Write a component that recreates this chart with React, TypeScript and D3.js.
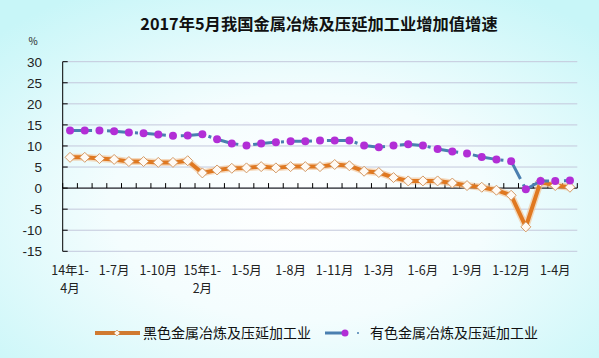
import React from "react";
import * as d3 from "d3";

const title = "2017年5月我国金属冶炼及压延加工业增加值增速";
const seriesNames = ["黑色金属冶炼及压延加工业", "有色金属冶炼及压延加工业"];
// 35 monthly cumulative periods: 2014 1-4 .. 2017 1-5
const ferrous = [7.3, 7.3, 7.0, 6.8, 6.3, 6.3, 6.1, 6.1, 6.5, 3.6, 4.3, 4.7, 4.8, 5.1, 4.8, 5.1, 5.1, 5.1, 5.6, 5.3, 4.0, 3.7, 2.5, 1.7, 1.7, 1.7, 1.2, 0.6, 0.2, -0.5, -1.7, -9.2, 1.5, 0.6, 0.2];
const nonferrous = [13.7, 13.7, 13.7, 13.5, 13.2, 13.0, 12.7, 12.4, 12.5, 12.8, 11.6, 10.6, 10.1, 10.6, 10.9, 11.1, 11.1, 11.3, 11.3, 11.3, 10.1, 9.7, 10.1, 10.4, 10.1, 9.3, 8.7, 8.2, 7.4, 6.8, 6.4, -0.3, 1.7, 1.7, 1.8];
const xLabels = [["14年1-", "4月"], ["1-7月"], ["1-10月"], ["15年1-", "2月"], ["1-5月"], ["1-8月"], ["1-11月"], ["1-3月"], ["1-6月"], ["1-9月"], ["1-12月"], ["1-4月"]];
const labelEvery = 3;
const yTicks = [30, 25, 20, 15, 10, 5, 0, -5, -10, -15];

const W = 599, H = 358;
const left = 62.7, right = 577.3, top = 61.7, bottom = 251.3;

export default function App() {
  const idx = d3.range(ferrous.length);
  const x = d3.scaleBand<number>().domain(idx).range([left, right]).padding(0);
  const cx = (i: number) => (x(i) as number) + x.bandwidth() / 2;
  const y = d3.scaleLinear().domain([-15, 30]).range([bottom, top]);

  const line = (data: number[]) =>
    d3.line<number>().x((_, i) => cx(i)).y((d) => y(d))(data) as string;

  const diamond = (i: number, v: number) => {
    const px = cx(i), py = y(v), r = 5;
    return `M${px},${py - r}L${px + r},${py}L${px},${py + r}L${px - r},${py}Z`;
  };

  const font = "'Noto Sans CJK SC', 'Liberation Sans', sans-serif";

  return (
    <svg width={W} height={H} style={{ position: "absolute", left: 0, top: 0 }} fontFamily={font}>
      <defs>
        <radialGradient id="bg" cx="50%" cy="58%" r="70%">
          <stop offset="0%" stopColor="#ffffff" />
          <stop offset="45%" stopColor="#f4fdfe" />
          <stop offset="100%" stopColor="#c8f6f8" />
        </radialGradient>
      </defs>
      <rect x={0} y={0} width={W} height={H} fill="url(#bg)" />
      <text x={319} y={30} textAnchor="middle" fontSize={16.3} fontWeight="bold" fill="#111">{title}</text>
      <text x={33} y={45} textAnchor="middle" fontSize={10} fill="#222">%</text>

      {yTicks.map((t) => (
        <g key={t}>
          <line x1={left} x2={right} y1={y(t)} y2={y(t)} stroke="#c4c8dc" strokeWidth={1} />
          <line x1={left} x2={left + 5} y1={y(t)} y2={y(t)} stroke="#000" />
          <text x={42} y={y(t) + 5} textAnchor="end" fontSize={13.5} fill="#222" fontFamily="'Liberation Sans', sans-serif">{t}</text>
        </g>
      ))}
      <line x1={left} x2={left} y1={top} y2={bottom} stroke="#000" />
      <line x1={left} x2={right} y1={y(0)} y2={y(0)} stroke="#000" />
      {d3.range(ferrous.length + 1).map((i) => {
        const px = i < ferrous.length ? (x(i) as number) : right;
        return <line key={i} x1={px} x2={px} y1={y(0) - 5} y2={y(0)} stroke="#000" />;
      })}

      {xLabels.map((lines, k) => (
        <text key={k} textAnchor="middle" fontSize={12.5} fill="#222">
          {lines.map((s, j) => (
            <tspan key={j} x={cx(k * labelEvery)} y={275 + j * 18}>{s}</tspan>
          ))}
        </text>
      ))}

      {/* ferrous series */}
      <path d={line(ferrous)} fill="none" stroke="#f4c090" strokeWidth={7} strokeLinejoin="round" opacity={0.6} />
      <path d={line(ferrous)} fill="none" stroke="#e07820" strokeWidth={4} strokeLinejoin="round" />
      {ferrous.map((v, i) => (
        <path key={i} d={diamond(i, v)} fill="#fffaf4" stroke="#d49a66" strokeWidth={1} />
      ))}

      {/* nonferrous series */}
      <path d={line(nonferrous)} fill="none" stroke="#4a7fb0" strokeWidth={3} strokeDasharray="22,6,3,6" strokeLinejoin="round" />
      {nonferrous.map((v, i) => (
        <circle key={i} cx={cx(i)} cy={y(v)} r={4} fill="#b22ed6" />
      ))}

      {/* legend */}
      <line x1={95} x2={140} y1={333} y2={333} stroke="#d07a30" strokeWidth={4} />
      <path d="M117,330L120,333L117,336L114,333Z" fill="#fff5e8" stroke="#d49a66" strokeWidth={0.8} />
      <text x={143} y={338} fontSize={14} fill="#111">{seriesNames[0]}</text>
      <line x1={325} x2={345} y1={333} y2={333} stroke="#4a7fb0" strokeWidth={3} />
      <circle cx={345} cy={333} r={3.5} fill="#b22ed6" />
      <circle cx={358} cy={333} r={1} fill="#4a7fb0" />
      <text x={370} y={338} fontSize={14} fill="#111">{seriesNames[1]}</text>
    </svg>
  );
}
